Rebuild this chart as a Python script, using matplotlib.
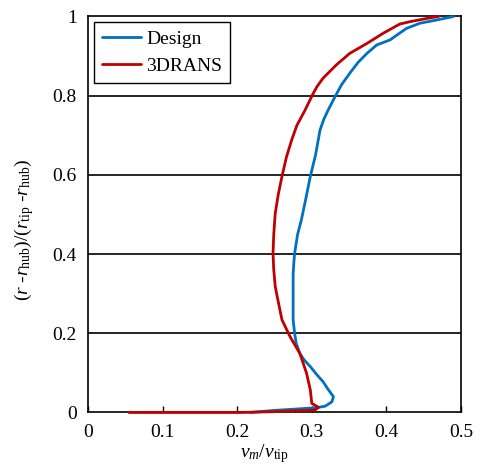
import matplotlib
matplotlib.use("Agg")
import matplotlib.pyplot as plt

design_x = [0.217, 0.248, 0.306, 0.318, 0.327, 0.329, 0.322, 0.315, 0.306, 0.298, 0.290, 0.284,
            0.279, 0.277, 0.275, 0.275, 0.275, 0.276, 0.277, 0.281, 0.286, 0.292, 0.298, 0.305,
            0.311, 0.316, 0.322, 0.331, 0.340, 0.351, 0.362, 0.374, 0.387, 0.405, 0.414, 0.427,
            0.445, 0.467, 0.490]
design_y = [0.0, 0.005, 0.012, 0.016, 0.027, 0.040, 0.058, 0.078, 0.097, 0.116, 0.132, 0.149,
            0.175, 0.200, 0.234, 0.300, 0.350, 0.380, 0.402, 0.450, 0.486, 0.540, 0.596, 0.650,
            0.713, 0.740, 0.764, 0.797, 0.828, 0.857, 0.884, 0.907, 0.928, 0.941, 0.953, 0.970,
            0.983, 0.991, 1.0]

rans_x = [0.055, 0.150, 0.204, 0.248, 0.304, 0.309, 0.300, 0.298, 0.293, 0.284, 0.271, 0.260,
          0.255, 0.251, 0.249, 0.248, 0.249, 0.251, 0.255, 0.260, 0.266, 0.273, 0.280, 0.290,
          0.302, 0.307, 0.315, 0.333, 0.351, 0.374, 0.396, 0.418, 0.432, 0.454, 0.470]
rans_y = [0.0, 0.0, 0.0, 0.002, 0.006, 0.013, 0.023, 0.057, 0.099, 0.149, 0.191, 0.234,
          0.280, 0.318, 0.360, 0.402, 0.450, 0.503, 0.550, 0.596, 0.645, 0.688, 0.725, 0.760,
          0.806, 0.823, 0.844, 0.878, 0.907, 0.932, 0.958, 0.981, 0.987, 0.995, 1.0]

xticks = [0, 0.1, 0.2, 0.3, 0.4, 0.5]
yticks = [0, 0.2, 0.4, 0.6, 0.8, 1]

plt.rcParams['font.family'] = ['Liberation Serif', 'DejaVu Serif']
plt.rcParams['mathtext.fontset'] = 'custom'
plt.rcParams['mathtext.rm'] = 'Liberation Serif'
plt.rcParams['mathtext.it'] = 'Liberation Serif:italic'

fig = plt.figure(figsize=(4.82, 4.75), dpi=100)
ax = fig.add_axes([0.1826, 0.1316, 0.7738, 0.8337])

for yv in yticks[1:-1]:
    ax.axhline(yv, color='black', lw=1.2, zorder=1)

ax.plot(design_x, design_y, color='#0070C0', lw=2.0, label='Design', zorder=4,
        clip_on=False, solid_joinstyle='round', solid_capstyle='round')
ax.plot(rans_x, rans_y, color='#C00000', lw=2.0, label='3DRANS', zorder=4,
        clip_on=False, solid_joinstyle='round', solid_capstyle='round')

ax.set_xlim(0, 0.5)
ax.set_ylim(0, 1)
ax.set_xticks(xticks)
ax.set_xticklabels(['0', '0.1', '0.2', '0.3', '0.4', '0.5'])
ax.set_yticks(yticks)
ax.set_yticklabels(['0', '0.2', '0.4', '0.6', '0.8', '1'])
ax.tick_params(axis='x', direction='in', length=4, width=1, labelsize=14, pad=8)
ax.tick_params(axis='y', direction='out', length=0, width=1, labelsize=14, pad=8)
for s in ax.spines.values():
    s.set_linewidth(1.2)
    s.set_color('black')

ax.set_xlabel(r'$v_m/v_{\mathrm{tip}}$', fontsize=14)
ax.xaxis.set_label_coords(0.472, -0.075)
ax.set_ylabel(r'$(r\ \text{-}r_{\mathrm{hub}})/(r_{\mathrm{tip}}\ \text{-}r_{\mathrm{hub}})$', fontsize=14)
ax.yaxis.set_label_coords(-0.139, 0.461)

leg = ax.legend(loc='upper left', fontsize=14, frameon=True, fancybox=False,
                edgecolor='black', framealpha=1, borderpad=0.4, handlelength=2.0,
                handletextpad=0.3, labelspacing=0.5, borderaxespad=0.3)
leg.get_frame().set_linewidth(1.0)
leg.set_zorder(5)

fig.savefig('out.png', dpi=100)
